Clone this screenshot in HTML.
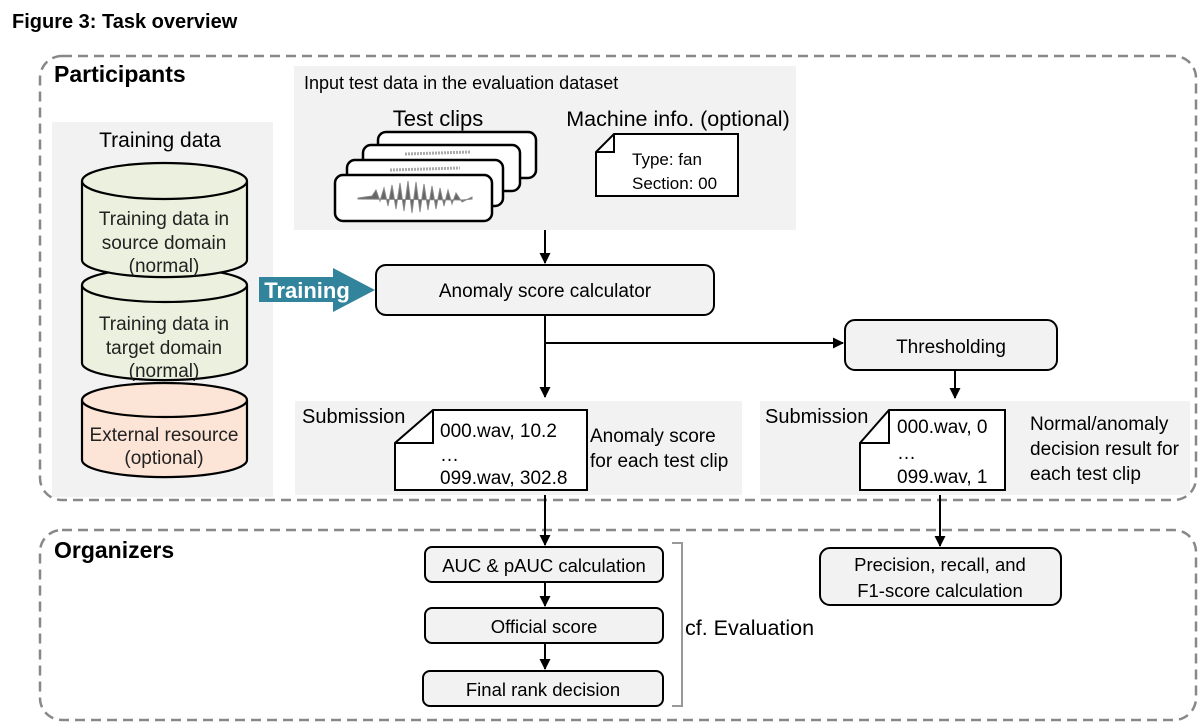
<!DOCTYPE html>
<html><head><meta charset="utf-8"><style>
body{margin:0;background:#fff;width:1200px;height:724px;overflow:hidden}
svg{display:block}
.a{font-family:"Liberation Sans",Arial,sans-serif}
.c{font-family:"Liberation Sans",sans-serif}
</style></head><body>
<svg width="1200" height="724" viewBox="0 0 1200 724" xmlns="http://www.w3.org/2000/svg">
<defs>
<marker id="ar" markerWidth="11" markerHeight="11" refX="10" refY="5.5" orient="auto" markerUnits="userSpaceOnUse"><path d="M0,0 L11,5.5 L0,11 z" fill="#000"/></marker>
</defs>
<text x="12" y="28" class="a" font-size="20" font-weight="bold">Figure 3: Task overview</text>
<rect x="40" y="56" width="1156" height="444" rx="22" fill="none" stroke="#888" stroke-width="2.5" stroke-dasharray="10,6"/>
<rect x="40" y="530" width="1156" height="190" rx="22" fill="none" stroke="#888" stroke-width="2.5" stroke-dasharray="10,6"/>
<text x="54" y="82" class="a" font-size="23" font-weight="bold">Participants</text>
<text x="54" y="558" class="a" font-size="23" font-weight="bold">Organizers</text>

<!-- training panel -->
<rect x="52" y="122" width="221" height="375" fill="#f2f2f2"/>
<text x="160" y="147" class="a" font-size="21" text-anchor="middle">Training data</text>
<path d="M82,400 L82,460 A82,17 0 0 0 247,460 L247,400" fill="#fce4d6" stroke="#000" stroke-width="2.2"/>
<ellipse cx="164.5" cy="400" rx="82.5" ry="17" fill="#fce4d6" stroke="#000" stroke-width="2.2"/>
<path d="M82,285 L82,363 A82,17 0 0 0 247,363 L247,285" fill="#ebf1de" stroke="#000" stroke-width="2.2"/>
<ellipse cx="164.5" cy="285" rx="82.5" ry="17" fill="#ebf1de" stroke="#000" stroke-width="2.2"/>
<path d="M82,181 L82,260 A82,17 0 0 0 247,260 L247,181" fill="#ebf1de" stroke="#000" stroke-width="2.2"/>
<ellipse cx="164.5" cy="181" rx="82.5" ry="18" fill="#ebf1de" stroke="#000" stroke-width="2.2"/>
<g class="a" font-size="19" text-anchor="middle" fill="#222">
<text x="164" y="225">Training data in</text><text x="164" y="249">source domain</text><text x="164" y="272">(normal)</text>
<text x="164" y="330">Training data in</text><text x="164" y="354">target domain</text><text x="164" y="377">(normal)</text>
<text x="164" y="441">External resource</text><text x="164" y="464">(optional)</text>
</g>
<path d="M259,277 L333,277 L333,268 L375,290 L333,312 L333,302 L259,302 z" fill="#31849b"/>
<text x="307" y="298" class="a" font-size="22" font-weight="bold" fill="#fff" text-anchor="middle">Training</text>

<!-- input panel -->
<rect x="294" y="66" width="502" height="164" fill="#f2f2f2"/>
<text x="304" y="89" class="a" font-size="18">Input test data in the evaluation dataset</text>
<text x="438" y="126" class="a" font-size="22" text-anchor="middle">Test clips</text>
<text x="678" y="126" class="a" font-size="21.5" text-anchor="middle">Machine info. (optional)</text>
<g fill="#fff" stroke="#000" stroke-width="2.5">
<rect x="378" y="132" width="158" height="46" rx="8"/>
<rect x="363" y="145" width="157" height="46" rx="8"/>
<rect x="347" y="160" width="156" height="46" rx="8"/>
<rect x="335" y="175" width="157" height="46" rx="8"/>
</g>
<path d="M358,198 L372,196 L376,190 L380,201 L384,188 L388,206 L392,185 L396,209 L400,183 L404,211 L408,181 L412,213 L416,182 L420,212 L424,184 L428,210 L432,186 L436,209 L440,188 L444,206 L448,190 L452,204 L456,193 L462,202 L472,197 L472,199 L462,200 L358,199 z" fill="#666" stroke="#888" stroke-width="1"/>
<path d="M405,154 L470,152 M390,170 L460,168" stroke="#aaa" stroke-width="3" stroke-dasharray="2,1"/>
<path d="M614,134 L738,134 L738,196 L596,196 L596,152 z" fill="#fff" stroke="#000" stroke-width="2"/>
<path d="M614,134 L614,152 L596,152" fill="none" stroke="#000" stroke-width="2"/>
<text x="632" y="165" class="a" font-size="17">Type: fan</text>
<text x="632" y="189" class="a" font-size="17">Section: 00</text>

<!-- calculator -->
<line x1="545" y1="230" x2="545" y2="263" stroke="#000" stroke-width="2" marker-end="url(#ar)"/>
<rect x="376" y="265" width="338" height="50" rx="10" fill="#f2f2f2" stroke="#000" stroke-width="2"/>
<text x="545" y="297" class="a" font-size="19" text-anchor="middle">Anomaly score calculator</text>
<line x1="545" y1="315" x2="545" y2="397" stroke="#000" stroke-width="2" marker-end="url(#ar)"/>
<line x1="545" y1="343" x2="843" y2="343" stroke="#000" stroke-width="2" marker-end="url(#ar)"/>
<rect x="845" y="320" width="212" height="50" rx="10" fill="#f2f2f2" stroke="#000" stroke-width="2"/>
<text x="951" y="353" class="a" font-size="19" text-anchor="middle">Thresholding</text>
<line x1="955" y1="370" x2="955" y2="398" stroke="#000" stroke-width="2" marker-end="url(#ar)"/>

<!-- submissions -->
<rect x="295" y="401" width="447" height="94" fill="#f2f2f2"/>
<text x="302" y="423" class="a" font-size="20">Submission</text>
<path d="M433,410 L587,410 L587,490 L395,490 L395,443 z" fill="#fff" stroke="#000" stroke-width="2"/>
<path d="M433,410 L433,443 L395,443" fill="none" stroke="#000" stroke-width="2"/>
<g class="c" font-size="19"><text x="440" y="437">000.wav, 10.2</text><text x="440" y="461">…</text><text x="440" y="484">099.wav, 302.8</text>
<text x="590" y="442">Anomaly score</text><text x="590" y="467">for each test clip</text></g>
<rect x="760" y="401" width="430" height="94" fill="#f2f2f2"/>
<text x="765" y="423" class="a" font-size="20">Submission</text>
<path d="M889,410 L1005,410 L1005,490 L860,490 L860,443 z" fill="#fff" stroke="#000" stroke-width="2"/>
<path d="M889,410 L889,443 L860,443" fill="none" stroke="#000" stroke-width="2"/>
<g class="c" font-size="19"><text x="897" y="433">000.wav, 0</text><text x="897" y="459">…</text><text x="897" y="483">099.wav, 1</text>
<text x="1030" y="430">Normal/anomaly</text><text x="1030" y="455">decision result for</text><text x="1030" y="480">each test clip</text></g>

<!-- organizers -->
<line x1="545" y1="495" x2="545" y2="545" stroke="#000" stroke-width="2" marker-end="url(#ar)"/>
<line x1="940" y1="495" x2="940" y2="546" stroke="#000" stroke-width="2" marker-end="url(#ar)"/>
<g fill="#f2f2f2" stroke="#000" stroke-width="2">
<rect x="425" y="547" width="238" height="35" rx="7"/>
<rect x="425" y="608" width="238" height="35" rx="7"/>
<rect x="423" y="671" width="240" height="35" rx="7"/>
<rect x="820" y="548" width="241" height="57" rx="10"/>
</g>
<line x1="545" y1="582" x2="545" y2="606" stroke="#000" stroke-width="2" marker-end="url(#ar)"/>
<line x1="545" y1="643" x2="545" y2="669" stroke="#000" stroke-width="2" marker-end="url(#ar)"/>
<g class="c" font-size="18.5" text-anchor="middle">
<text x="544" y="572">AUC &amp; pAUC calculation</text>
<text x="544" y="633">Official score</text>
<text x="543" y="696">Final rank decision</text>
<text x="940" y="571">Precision, recall, and</text>
<text x="940" y="597">F1-score calculation</text>
</g>
<path d="M672,543 L682,543 L682,706 L672,706" fill="none" stroke="#999" stroke-width="2"/>
<text x="685" y="635" class="c" font-size="21.5">cf. Evaluation</text>
</svg>
</body></html>
